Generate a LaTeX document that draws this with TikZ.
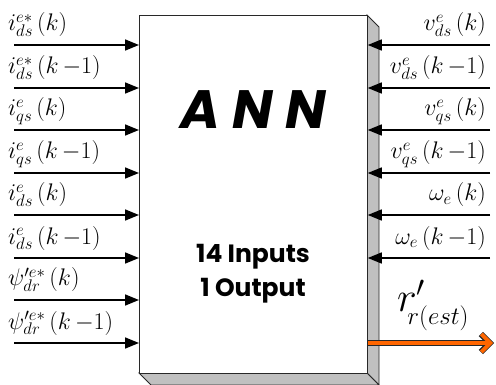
\RequirePackage{fix-cm}
\documentclass[tikz,border=0pt]{standalone}
\usepackage{fontspec}
\usetikzlibrary{arrows.meta}
\newfontfamily\pop{Poppins}
\definecolor{shade}{RGB}{192,192,192}
\definecolor{edge}{RGB}{40,40,40}
\definecolor{outorange}{RGB}{255,102,0}
\newcommand{\kmo}{(k\,{-}1)}
\tikzset{
  inarrow/.style={line width=1.6pt, -{Triangle[length=14pt,width=11pt]}},
  leftlab/.style={anchor=base west, inner sep=0pt, font=\fontsize{24}{26}\selectfont},
  rightlab/.style={anchor=base east, inner sep=0pt, font=\fontsize{24}{26}\selectfont},
  facebox/.style={draw=edge, line width=0.8pt},
  boxtext/.style={font=\pop\bfseries\fontsize{25}{28}\selectfont, anchor=base, inner sep=0pt},
}
\begin{document}
\begin{tikzpicture}[x=1pt,y=-1pt]
\useasboundingbox (0,0) rectangle (496,385);
% 3D extrusion
\filldraw[facebox, fill=shade] (367,15) -- (379,27) -- (379,385) -- (367,373) -- cycle;
\filldraw[facebox, fill=shade] (139,373) -- (151,385) -- (379,385) -- (367,373) -- cycle;
% front face
\node[facebox, fill=white, minimum width=228pt, minimum height=358pt, inner sep=0pt, anchor=north west] (ann) at (139,15) {};
% texts in the box
\node[font=\pop\bfseries\itshape\fontsize{54}{54}\selectfont, inner sep=0pt] (title) at (253,110) {A N N};
\node[boxtext] (ins) at (253,262) {14 Inputs};
\node[boxtext] (outs) at (253,297) {1 Output};
% left inputs
\foreach \y/\n in {45/1,88/2,130/3,173/4,215/5,258/6,300/7,343/8}{
  \coordinate (l\n) at (14,\y);
  \draw[inarrow] (l\n) -- (l\n -| ann.west);
}
\node[leftlab] (tl1) at (8,31) {$i^{e*}_{ds}\,(k)$};
\node[leftlab] (tl2) at (8,74) {$i^{e*}_{ds}\,\kmo$};
\node[leftlab] (tl3) at (8,116) {$i^{e}_{qs}\,(k)$};
\node[leftlab] (tl4) at (8,159) {$i^{e}_{qs}\,\kmo$};
\node[leftlab] (tl5) at (8,201) {$i^{e}_{ds}\,(k)$};
\node[leftlab] (tl6) at (8,244) {$i^{e}_{ds}\,\kmo$};
\node[leftlab] (tl7) at (8,286) {$\psi'^{e*}_{dr}\,(k)$};
\node[leftlab] (tl8) at (8,329) {$\psi'^{e*}_{dr}\,\kmo$};
% right inputs
\foreach \y/\n in {45/1,88/2,130/3,173/4,215/5,258/6}{
  \coordinate (r\n) at (490,\y);
  \draw[inarrow] (r\n) -- (r\n -| ann.east);
}
\node[rightlab] (tr1) at (486,31) {$v^{e}_{ds}\,(k)$};
\node[rightlab] (tr2) at (486,74) {$v^{e}_{ds}\,\kmo$};
\node[rightlab] (tr3) at (486,116) {$v^{e}_{qs}\,(k)$};
\node[rightlab] (tr4) at (486,159) {$v^{e}_{qs}\,\kmo$};
\node[rightlab] (tr5) at (486,201) {$\omega_{e}\,(k)$};
\node[rightlab] (tr6) at (486,244) {$\omega_{e}\,\kmo$};
% output
\coordinate (oend) at (494,343);
\draw[line width=6pt, edge, -{Straight Barb[length=9pt,width=18pt]}] (ann.east |- oend) -- (oend);
\draw[line width=4pt, outorange, -{Straight Barb[length=9pt,width=18pt]}] (ann.east |- oend) -- ([xshift=-0.8pt]oend);
\node[anchor=base west, inner sep=0pt] (rlab) at (397,312) {\fontsize{42}{42}\selectfont$r'$\kern-18pt\raisebox{-13pt}{\fontsize{25}{25}\selectfont$r(est)$}};
\end{tikzpicture}
\end{document}
